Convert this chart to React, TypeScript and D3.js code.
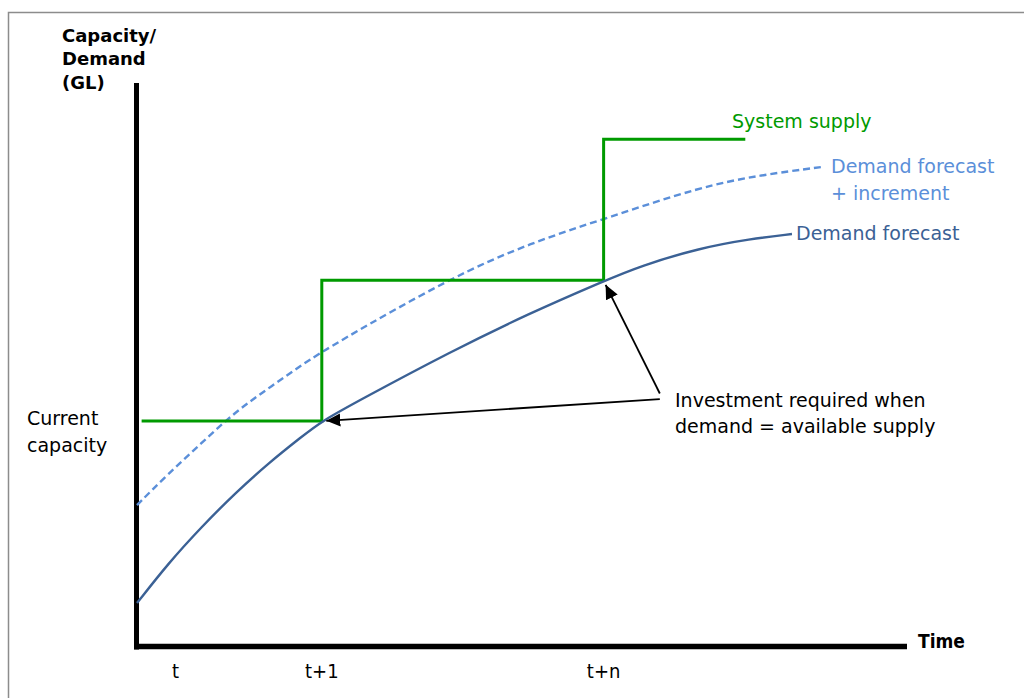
import React from 'react';
import * as d3 from 'd3';

// Demand forecast (solid)
const demandTime = [0, 0.406, 0.84, 1.273, 1.705, 2.139, 2.4, 2.896, 4.065, 5.104, 6.065, 6.532, 7.312, 7.961, 8.506];
const demandValue = [7.7, 14.76, 21.26, 27.19, 32.51, 37.23, 40.0, 43.74, 52.26, 59.18, 64.86, 67.52, 70.72, 72.32, 73.2];
// Demand forecast + increment (dashed)
const incTime = [0, 0.406, 0.84, 1.273, 1.705, 2.139, 2.571, 4.065, 5.104, 6.143, 7.312, 8.091, 8.896];
const incValue = [25.1, 30.65, 36.13, 41.61, 45.79, 49.99, 53.75, 65.39, 71.61, 76.22, 81.54, 83.67, 85.09];
// System supply (step)
const supplyTime = [0.06, 2.4, 6.06, 7.9];
const supplyValue = [40, 65, 90, 90];
// Time tick labels
const tickTimes = [0.5, 2.4, 6.06];
const tickLabels = ['t', 't+1', 't+n'];
// Investment points (demand = available supply)
const investTime = [2.4, 6.06];
const investValue = [40, 64.9];
const calloutTime = [6.79, 6.79];
const calloutValue = [43.9, 44.9];

const W = 1024;
const H = 698;
const GREEN = '#009a00';
const LIGHT = '#5b8fd9';
const DARK = '#3b6195';
const FONT = "'DejaVu Sans', Verdana, sans-serif";
const NARROW = "'Liberation Sans Narrow', 'DejaVu Sans Condensed', 'Liberation Sans', sans-serif";

export default function App() {
  const x = d3.scaleLinear().domain([0, 10]).range([137, 907]);
  const y = d3.scaleLinear().domain([0, 100]).range([646.5, 83]);

  const curve = d3
    .line<[number, number]>()
    .x((d) => x(d[0]))
    .y((d) => y(d[1]))
    .curve(d3.curveBasis);
  const step = d3
    .line<[number, number]>()
    .x((d) => x(d[0]))
    .y((d) => y(d[1]))
    .curve(d3.curveStepAfter);

  const demandPts = demandTime.map((t, i) => [t, demandValue[i]] as [number, number]);
  const incPts = incTime.map((t, i) => [t, incValue[i]] as [number, number]);
  const supplyPts = supplyTime.map((t, i) => [t, supplyValue[i]] as [number, number]);

  const arrows = investTime.map((t, i) => {
    const ax = x(calloutTime[i]);
    const ay = y(calloutValue[i]);
    const tx = x(t);
    const ty = y(investValue[i]);
    const dx = tx - ax;
    const dy = ty - ay;
    const len = Math.hypot(dx, dy);
    const off = 4.5;
    return { x1: ax, y1: ay, x2: tx - (dx / len) * off, y2: ty - (dy / len) * off };
  });

  return (
    <svg
      width={W}
      height={H}
      style={{ position: 'absolute', left: 0, top: 0, background: '#fff' }}
    >
      <defs>
        <marker
          id="ah"
          markerUnits="userSpaceOnUse"
          markerWidth={16}
          markerHeight={14}
          refX={14}
          refY={7}
          orient="auto"
        >
          <path d="M0,0.5 L14,7 L0,13.5 Z" fill="#000" />
        </marker>
      </defs>
      <rect x={0} y={0} width={W} height={H} fill="#fff" />
      {/* frame */}
      <rect x={8.5} y={12.5} width={1100} height={800} fill="none" stroke="#8c8c8c" strokeWidth={1.5} />

      {/* axes */}
      <line x1={x(0) - 0.5} y1={y(100)} x2={x(0) - 0.5} y2={y(0) + 3} stroke="#000" strokeWidth={5} />
      <line x1={x(0) - 3} y1={y(0)} x2={x(10)} y2={y(0)} stroke="#000" strokeWidth={5.5} />

      {/* series */}
      <path d={curve(incPts) || ''} fill="none" stroke={LIGHT} strokeWidth={2.4} strokeDasharray="7,4" />
      <path d={step(supplyPts) || ''} fill="none" stroke={GREEN} strokeWidth={3} />
      <path d={curve(demandPts) || ''} fill="none" stroke={DARK} strokeWidth={2.4} />

      {/* arrows */}
      {arrows.map((a, i) => (
        <line key={i} x1={a.x1} y1={a.y1} x2={a.x2} y2={a.y2} stroke="#000" strokeWidth={1.8} markerEnd="url(#ah)" />
      ))}

      {/* y axis title */}
      <text fontFamily={FONT} fontWeight="bold" fontSize={18} fill="#000">
        <tspan x={62} y={42}>Capacity/</tspan>
        <tspan x={62} y={65}>Demand</tspan>
        <tspan x={62} y={88.5}>(GL)</tspan>
      </text>

      <text fontFamily={FONT} fontSize={19} fill="#000">
        <tspan x={27} y={425}>Current</tspan>
        <tspan x={27} y={452}>capacity</tspan>
      </text>

      <text fontFamily={FONT} fontSize={19} fill={GREEN} x={732} y={128}>System supply</text>
      <text fontFamily={FONT} fontSize={19} fill={LIGHT}>
        <tspan x={831} y={173}>Demand forecast</tspan>
        <tspan x={831} y={200}>+ increment</tspan>
      </text>
      <text fontFamily={FONT} fontSize={19} fill={DARK} x={796} y={240}>Demand forecast</text>

      <text fontFamily={FONT} fontSize={19} fill="#000">
        <tspan x={675} y={407}>Investment required when</tspan>
        <tspan x={675} y={433}>demand = available supply</tspan>
      </text>

      {/* x tick labels */}
      {tickTimes.map((t, i) => (
        <text key={i} x={x(t)} y={678} textAnchor="middle" fontFamily={NARROW} fontSize={20} fill="#000">
          {tickLabels[i]}
        </text>
      ))}
      <text x={918} y={648} fontFamily={NARROW} fontWeight="bold" fontSize={19} fill="#000">Time</text>
    </svg>
  );
}
